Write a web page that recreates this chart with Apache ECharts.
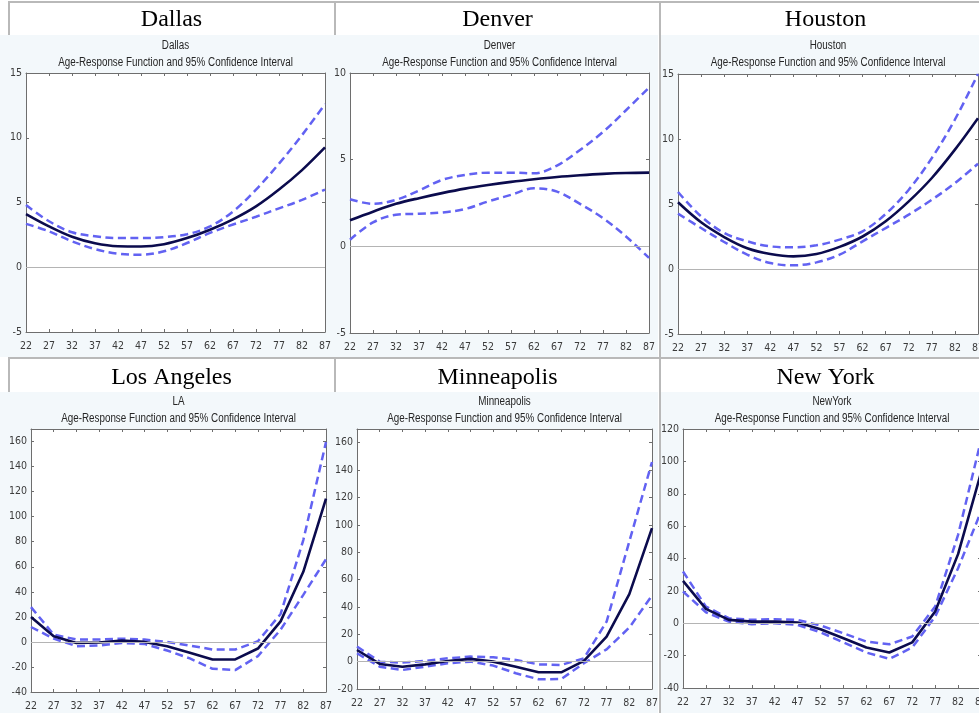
<!DOCTYPE html>
<html>
<head>
<meta charset="utf-8">
<script src="https://cdn.jsdelivr.net/npm/echarts@6/dist/echarts.min.js"></script>
<style>
html,body{margin:0;padding:0;background:#fff;}
#chart{width:979px;height:714px;}
</style>
</head>
<body>
<div id="chart"></div>
<script>
// ---- data ----
const ages = ['22','27','32','37','42','47','52','57','62','67','72','77','82','87'];

const dallasMean  = [4.1, 3.15, 2.35, 1.85, 1.62, 1.6, 1.78, 2.25, 2.9, 3.7, 4.7, 6.0, 7.5, 9.25];
const dallasUpper = [4.8, 3.55, 2.7, 2.4, 2.25, 2.25, 2.33, 2.55, 3.15, 4.3, 6.0, 8.0, 10.2, 12.6];
const dallasLower = [3.35, 2.77, 2.0, 1.4, 1.05, 0.97, 1.23, 1.87, 2.65, 3.3, 3.9, 4.55, 5.2, 6.0];

const denverMean  = [1.5, 2.0, 2.45, 2.78, 3.07, 3.33, 3.54, 3.72, 3.87, 4.0, 4.1, 4.18, 4.23, 4.25];
const denverUpper = [2.72, 2.45, 2.68, 3.22, 3.83, 4.12, 4.25, 4.25, 4.21, 4.66, 5.56, 6.6, 7.85, 9.16];
const denverLower = [0.38, 1.38, 1.82, 1.88, 1.95, 2.15, 2.59, 2.97, 3.35, 3.16, 2.45, 1.63, 0.57, -0.67];

const houstonMean  = [5.13, 3.59, 2.46, 1.6, 1.15, 0.97, 1.15, 1.7, 2.5, 3.67, 5.2, 7.0, 9.18, 11.6];
const houstonUpper = [5.92, 4.05, 2.77, 2.13, 1.74, 1.67, 1.82, 2.26, 2.9, 4.23, 6.1, 8.54, 11.5, 15.0];
const houstonLower = [4.26, 3.15, 2.08, 1.1, 0.46, 0.28, 0.51, 1.1, 2.13, 3.15, 4.18, 5.33, 6.6, 8.1];

const laMean  = [19.9, 4.5, -0.8, -0.5, 1, 0, -3.4, -8.7, -14, -14, -5.3, 16.4, 56, 114.4];
const laUpper = [27.8, 5.8, 1.9, 1.9, 2.6, 1.9, 0, -2.9, -6.1, -6.1, 0.5, 22.3, 81.3, 159.5];
const laLower = [11.9, 2.6, -3.4, -2.9, -0.8, -1.6, -6.9, -13.2, -21.5, -22.5, -11.4, 9.8, 37.6, 66];

const minnMean  = [8.5, -1.7, -3.7, -2, 0.5, 2, 0, -3.7, -7.8, -7.8, 0.5, 18.3, 49.3, 97.6];
const minnUpper = [11, 0, -0.7, 0.5, 2.4, 3.7, 3.2, 1.2, -2, -2.4, 2.4, 29.3, 87.8, 145.9];
const minnLower = [6.1, -3.7, -6.1, -3.7, -1.2, 0, -2.9, -8.5, -12.9, -12.7, -1.2, 9, 24.9, 48.3];

const nyMean  = [26.2, 8.9, 2.1, 1, 1, 0.4, -3.7, -9.3, -15, -18.1, -11.8, 7.2, 42.7, 93];
const nyUpper = [32, 10.3, 3.1, 2.1, 2.5, 2.1, -1.4, -6.2, -11.3, -13, -8.2, 10.3, 54.6, 113];
const nyLower = [19.6, 6.8, 1, -0.6, 0, -1, -5.6, -11.8, -18.1, -22, -15, 4.1, 34, 69];

const cityTitles = ['Dallas','Denver','Houston','Los Angeles','Minneapolis','New York'];
const plotTitles = ['Dallas','Denver','Houston','LA','Minneapolis','NewYork'];
const subTitle = 'Age-Response Function and 95% Confidence Interval';

// ---- layout ----
const panels = [
  {mean:dallasMean, up:dallasUpper, lo:dallasLower, yMin:-5, yMax:15, yInt:5, smooth:true,
   grid:{left:26, top:73, width:299, height:259}, cx:171.5, row:0},
  {mean:denverMean, up:denverUpper, lo:denverLower, yMin:-5, yMax:10, yInt:5, smooth:true,
   grid:{left:350, top:73, width:299, height:260}, cx:497.5, row:0},
  {mean:houstonMean, up:houstonUpper, lo:houstonLower, yMin:-5, yMax:15, yInt:5, smooth:true,
   grid:{left:678, top:74, width:300, height:260}, cx:825.5, row:0},
  {mean:laMean, up:laUpper, lo:laLower, yMin:-40, yMax:170, yInt:20, smooth:false,
   grid:{left:31, top:429, width:295, height:263}, cx:171.5, row:1},
  {mean:minnMean, up:minnUpper, lo:minnLower, yMin:-20, yMax:170, yInt:20, smooth:false,
   grid:{left:357, top:429, width:295, height:260}, cx:497.5, row:1},
  {mean:nyMean, up:nyUpper, lo:nyLower, yMin:-40, yMax:120, yInt:20, smooth:false,
   grid:{left:683, top:429, width:298, height:259}, cx:825.5, row:1}
];

const AX = '#6e6e6e';
const LBL = '#3c3c3c';
const NARROW = '"DejaVu Sans Condensed","Liberation Sans Narrow","Arial Narrow",sans-serif';
const SANS = '"Liberation Sans",Arial,sans-serif';
const SERIF = '"Liberation Serif","Times New Roman",serif';
const DASH = '#6262f2';
const MEAN = '#0b0b4d';
const BG = '#f3f8fb';
const BORDER = '#b9b9b9';

const grids = [], xAxes = [], yAxes = [], series = [], graphics = [];

// backgrounds
const rowY = [[35, 322], [392, 321]];
const colX = [[0, 334], [334, 324], [661, 318]];
rowY.forEach(r => colX.forEach(c => {
  graphics.push({type:'rect', z:-10, shape:{x:c[0], y:r[0], width:c[1], height:r[1]}, style:{fill:BG}});
}));
// borders
graphics.push({type:'rect', z:-5, shape:{x:8, y:1, width:971, height:2}, style:{fill:BORDER}});
graphics.push({type:'rect', z:-5, shape:{x:8, y:357, width:971, height:2}, style:{fill:BORDER}});
[[8,1,34],[334,1,34],[659,1,356],[8,357,35],[334,357,35],[659,357,356]].forEach(b => {
  graphics.push({type:'rect', z:-5, shape:{x:b[0], y:b[1], width:2, height:b[2]}, style:{fill:BORDER}});
});

panels.forEach((p, i) => {
  grids.push(Object.assign({show:true, backgroundColor:'#ffffff', borderWidth:0, containLabel:false,
    outerBoundsMode:'none'}, p.grid));
  const xBase = {
    gridIndex:i, type:'category', data:ages, boundaryGap:false,
    axisLine:{show:true, onZero:false, lineStyle:{color:AX, width:1}},
    axisTick:{show:true, inside:true, length:3, interval:0, lineStyle:{color:AX}},
    splitLine:{show:false}
  };
  xAxes.push(Object.assign({}, xBase, {position:'bottom',
    axisLabel:{show:true, interval:0, color:LBL, fontFamily:NARROW, fontSize:10.5, margin:9, hideOverlap:false}}));
  xAxes.push(Object.assign({}, xBase, {position:'top', axisLabel:{show:false}}));
  const yBase = {
    gridIndex:i, type:'value', min:p.yMin, max:p.yMax, interval:p.yInt,
    axisLine:{show:true, onZero:false, lineStyle:{color:AX, width:1}},
    axisTick:{show:true, inside:true, length:3, lineStyle:{color:AX}},
    splitLine:{show:false}
  };
  yAxes.push(Object.assign({}, yBase, {position:'left',
    axisLabel:{show:true, color:LBL, fontFamily:NARROW, fontSize:10.5, margin:4, showMaxLabel: (p.yMax % p.yInt === 0)}}));
  yAxes.push(Object.assign({}, yBase, {position:'right', axisLabel:{show:false}}));

  const xi = 2*i, yi = 2*i;
  series.push({type:'line', xAxisIndex:xi, yAxisIndex:yi, data:[], silent:true, z:1,
    markLine:{silent:true, symbol:['none','none'], label:{show:false}, animation:false,
      lineStyle:{color:'#b4b4b4', type:'solid', width:1}, data:[{yAxis:0}]}});
  const common = {type:'line', xAxisIndex:xi, yAxisIndex:yi, symbol:'none', smooth:p.smooth ? 0.35 : false,
    animation:false, silent:true, clip:true};
  series.push(Object.assign({}, common, {name:'lower', data:p.lo, z:3,
    lineStyle:{color:DASH, width:2.5, type:[8,4.5]}}));
  series.push(Object.assign({}, common, {name:'upper', data:p.up, z:3,
    lineStyle:{color:DASH, width:2.5, type:[8,4.5]}}));
  series.push(Object.assign({}, common, {name:'mean', data:p.mean, z:4,
    lineStyle:{color:MEAN, width:2.6, type:'solid'}}));

  // titles
  const bigY = p.row === 0 ? 20 : 378;
  graphics.push({type:'text', z:10, x:p.cx, y:bigY,
    style:{text:cityTitles[i], fill:'#000', font:'24px ' + SERIF, align:'center', verticalAlign:'middle'}});
  const pcx = p.grid.left + p.grid.width/2;
  const t1 = p.row === 0 ? 46 : 402;
  graphics.push({type:'text', z:10, x:pcx, y:t1, scaleX:0.82,
    style:{text:plotTitles[i], fill:'#262626', font:'12px ' + SANS, align:'center', verticalAlign:'middle'}});
  graphics.push({type:'text', z:10, x:pcx, y:t1 + 17, scaleX:0.82,
    style:{text:subTitle, fill:'#262626', font:'12px ' + SANS, align:'center', verticalAlign:'middle'}});
});

const chart = echarts.init(document.getElementById('chart'), null, {renderer:'canvas'});
chart.setOption({
  backgroundColor:'#ffffff',
  animation:false,
  grid:grids, xAxis:xAxes, yAxis:yAxes, series:series,
  graphic:{elements:graphics}
});
</script>
</body>
</html>
